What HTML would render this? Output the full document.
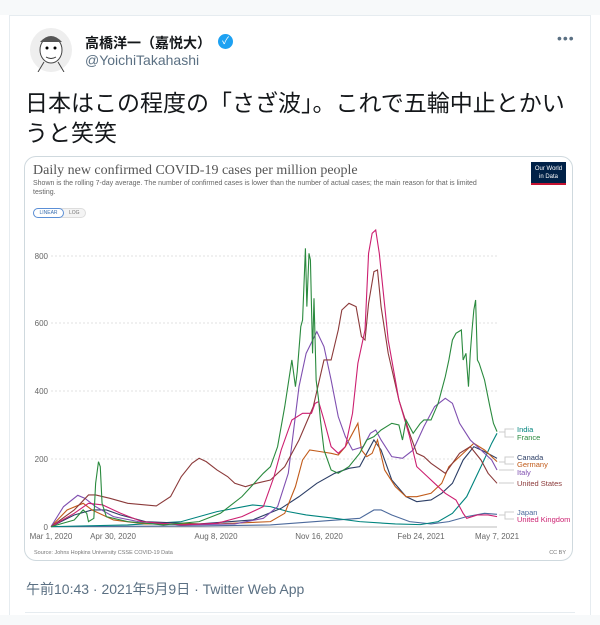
<!DOCTYPE html>
<html><head><meta charset="utf-8"><style>
body{margin:0;width:600px;height:625px;background:#fff;position:relative;overflow:hidden;font-family:"Liberation Sans","Noto Sans CJK JP",sans-serif}
.a{position:absolute;white-space:nowrap}
</style></head><body>
<div class="a" style="left:0;top:0;width:600px;height:15px;background:#f7f9fa"></div>
<div class="a" style="left:9px;top:15px;width:582px;height:600px;border:1px solid #e6ecf0;border-bottom:none;box-sizing:border-box"></div>
<div class="a" style="left:0;top:615px;width:600px;height:10px;background:#f7f9fa"></div>
<div class="a" style="left:30px;top:28px;width:42px;height:44px;border-radius:50%;background:#eee"></div>
<svg class="a" style="left:30px;top:28px" width="42" height="44"><ellipse cx="21" cy="22" rx="11" ry="13" fill="#fff" stroke="#444"/><path d="M10 14 Q21 2 32 14" fill="#555"/><circle cx="17" cy="20" r="1.5"/><circle cx="25" cy="20" r="1.5"/><path d="M16 29 Q21 32 26 29" stroke="#333" fill="none"/><path d="M8 44 L14 34 M34 44 L28 34" stroke="#444"/></svg>
<div class="a" style="left:85px;top:33px;font-size:14px;font-weight:bold;color:#14171a">高橋洋一（嘉悦大）</div>
<div class="a" style="left:218px;top:34px;width:15px;height:15px;border-radius:50%;background:#1da1f2;color:#fff;font-size:10px;line-height:15px;text-align:center">✓</div>
<div class="a" style="left:85px;top:52px;font-size:14px;color:#5b7083">@YoichiTakahashi</div>
<div class="a" style="left:557px;top:30px;font-size:14px;color:#5b7083;letter-spacing:1px">•••</div>
<div class="a" style="left:25px;top:88px;font-size:23px;line-height:30px;color:#14171a">日本はこの程度の「さざ波」。これで五輪中止とかい</div>
<div class="a" style="left:25px;top:118px;font-size:23px;line-height:30px;color:#14171a">うと笑笑</div>
<div class="a" style="left:24px;top:156px;width:549px;height:405px;border:1px solid #cfd9de;border-radius:12px;box-sizing:border-box"></div>
<div class="a" style="left:33px;top:163px;font-family:'Liberation Serif',serif;font-size:14px;color:#555">Daily new confirmed COVID-19 cases per million people</div>
<div class="a" style="left:33px;top:179px;font-size:7px;line-height:9px;color:#666;white-space:normal;width:458px">Shown is the rolling 7-day average. The number of confirmed cases is lower than the number of actual cases; the main reason for that is limited testing.</div>
<div class="a" style="left:531px;top:162px;width:35px;height:23px;background:#002147;border-bottom:2px solid #c41230;color:#fff;font-size:6px;line-height:8px;text-align:center;padding-top:3px;box-sizing:border-box">Our World<br>in Data</div>
<div class="a" style="left:33px;top:208px;width:53px;height:10px;border:1px solid #ddd;border-radius:6px;background:#f4f4f4;box-sizing:border-box"></div>
<div class="a" style="left:33px;top:208px;width:31px;height:10px;border:1px solid #5b8fd6;border-radius:6px;background:#fff;box-sizing:border-box;font-size:5px;line-height:8px;text-align:center;color:#3a6fb0">LINEAR</div>
<div class="a" style="left:69px;top:208px;font-size:5px;line-height:10px;color:#777">LOG</div>
<svg class="a" style="left:0;top:0" width="600" height="625" font-family="Liberation Sans, sans-serif">
<g stroke="#e2e2e2" stroke-dasharray="2,2" stroke-width="1">
<line x1="51" x2="497" y1="256" y2="256"/><line x1="51" x2="497" y1="323" y2="323"/><line x1="51" x2="497" y1="391" y2="391"/><line x1="51" x2="497" y1="459" y2="459"/></g>
<line x1="51" x2="497" y1="527" y2="527" stroke="#bbb"/>
<g font-size="8" fill="#666" text-anchor="end"><text x="48" y="259">800</text><text x="48" y="326">600</text><text x="48" y="394">400</text><text x="48" y="462">200</text><text x="48" y="530">0</text></g>
<g font-size="8" fill="#666" text-anchor="middle"><text x="51" y="539">Mar 1, 2020</text><text x="113" y="539">Apr 30, 2020</text><text x="216" y="539">Aug 8, 2020</text><text x="319" y="539">Nov 16, 2020</text><text x="421" y="539">Feb 24, 2021</text><text x="497" y="539">May 7, 2021</text></g>
<text x="34" y="554" font-size="5.5" fill="#777">Source: Johns Hopkins University CSSE COVID-19 Data</text>
<text x="566" y="554" font-size="5.5" fill="#777" text-anchor="end">CC BY</text>
<g stroke="#ccc" fill="none"><path d="M499 432 H505 V429 H514 M505 432 V437 H514 M499 462 H505 V457 H514 M505 462 V464 H514 M499 470 H514 M499 483 H514 M499 515 H505 V512 H514 M505 515 V519 H514"/></g>
<g font-size="7.5">
<text x="517" y="432" fill="#00847e">India</text><text x="517" y="440" fill="#2a8a3e">France</text>
<text x="517" y="460" fill="#2c3e66">Canada</text><text x="517" y="467" fill="#c15b1a">Germany</text>
<text x="517" y="475" fill="#7f4fb0">Italy</text><text x="517" y="486" fill="#8b3a3a">United States</text>
<text x="517" y="515" fill="#4c6a9c">Japan</text><text x="517" y="522" fill="#cc1f70">United Kingdom</text></g>
<g fill="none" stroke-width="1.1" transform="translate(20.7,220) scale(0.3568,0.3333)">
<polyline vector-effect="non-scaling-stroke" stroke="#4c6a9c" points="85,920 500,918 700,915 850,903 950,895 990,870 1010,870 1040,885 1090,905 1150,912 1200,905 1250,890 1300,880 1335,883"/>
<polyline vector-effect="non-scaling-stroke" stroke="#00847e" points="85,920 300,915 450,905 550,875 600,865 650,855 700,860 750,875 800,885 880,895 950,905 1050,912 1120,914 1170,905 1210,880 1250,830 1290,740 1320,670 1335,640"/>
<polyline vector-effect="non-scaling-stroke" stroke="#2c3e66" points="85,920 150,885 200,870 240,870 280,885 350,905 500,912 650,900 730,865 780,830 830,790 880,760 920,745 950,740 970,700 990,660 1010,690 1040,780 1080,830 1110,845 1150,840 1180,820 1210,790 1240,720 1270,680 1300,695 1335,715"/>
<polyline vector-effect="non-scaling-stroke" stroke="#c15b1a" points="85,920 130,870 175,850 200,870 260,900 350,912 550,912 700,905 740,880 770,800 790,720 810,690 840,695 870,700 890,705 910,680 930,640 945,610 955,690 970,710 985,700 1000,660 1020,750 1050,800 1080,830 1110,830 1150,820 1180,790 1200,740 1220,720 1250,690 1270,670 1300,690 1335,725"/>
<polyline vector-effect="non-scaling-stroke" stroke="#7f4fb0" points="85,920 120,860 160,826 180,835 210,860 260,890 330,905 450,915 600,912 680,895 720,860 750,760 780,500 800,400 830,335 850,380 870,480 890,590 910,650 930,690 960,680 980,640 995,630 1010,660 1040,710 1070,715 1100,690 1130,620 1160,560 1190,535 1210,550 1230,610 1260,660 1290,690 1320,720 1335,750"/>
<polyline vector-effect="non-scaling-stroke" stroke="#8b3a3a" points="85,920 150,870 190,825 210,825 250,835 300,850 380,858 420,830 450,770 480,730 500,715 520,725 550,750 580,770 600,790 630,800 660,790 700,780 740,740 780,660 820,560 850,420 870,420 890,330 900,270 920,250 940,260 955,350 965,360 975,250 990,155 1000,150 1010,260 1030,400 1060,540 1090,640 1110,700 1130,710 1150,730 1190,760 1230,700 1260,680 1290,720 1310,760 1335,790"/>
<polyline vector-effect="non-scaling-stroke" stroke="#cc1f70" points="85,920 150,880 190,850 230,855 280,880 340,905 450,915 550,910 620,890 680,860 710,770 730,690 760,600 790,580 815,580 825,550 835,545 850,600 870,680 890,700 910,680 930,580 945,430 955,380 965,330 975,100 985,40 995,30 1005,100 1030,360 1060,540 1090,650 1110,740 1140,770 1160,790 1190,820 1220,840 1240,880 1250,895 1280,885 1310,885 1335,890"/>
<polyline vector-effect="non-scaling-stroke" stroke="#2a8a3e" points="85,920 150,900 175,870 185,880 190,905 205,895 210,790 218,725 223,740 228,850 240,890 300,905 400,915 500,905 560,880 620,830 680,760 700,740 720,680 740,560 760,420 770,500 775,455 785,320 790,300 798,85 802,260 808,100 812,120 818,400 822,235 828,480 835,540 840,600 850,690 870,750 890,760 920,740 950,700 970,660 990,650 1010,630 1040,610 1060,615 1070,660 1080,600 1100,640 1120,610 1130,600 1150,600 1170,550 1190,470 1200,420 1210,360 1220,340 1235,330 1240,420 1248,400 1255,500 1260,400 1265,330 1270,270 1275,240 1280,420 1285,430 1300,480 1315,560 1325,610 1335,635"/>
</g>
</svg>
<div class="a" style="left:26px;top:579px;font-size:14px;color:#5b7083">午前10:43 · 2021年5月9日 · Twitter Web App</div>
<div class="a" style="left:25px;top:612px;width:550px;height:1px;background:#e6ecf0"></div>
</body></html>
